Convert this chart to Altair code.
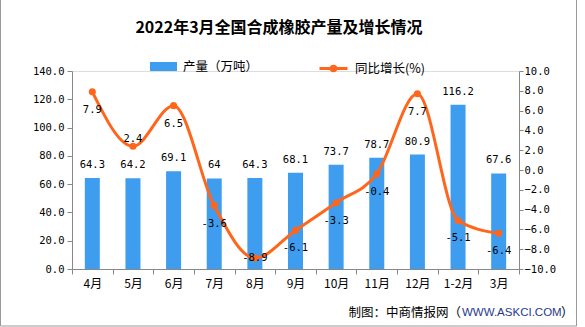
import altair as alt
import pandas as pd

months = ["4月", "5月", "6月", "7月", "8月", "9月", "10月", "11月", "12月", "1-2月", "3月"]
output = [64.3, 64.2, 69.1, 64, 64.3, 68.1, 73.7, 78.7, 80.9, 116.2, 67.6]
growth = [7.9, 2.4, 6.5, -3.6, -8.9, -6.1, -3.3, -0.4, 7.7, -5.1, -6.4]
left_ticks = [0, 20, 40, 60, 80, 100, 120, 140]
right_ticks = [-10, -8, -6, -4, -2, 0, 2, 4, 6, 8, 10]
bar_name = "产量（万吨）"
line_name = "同比增长(%)"
title_text = "2022年3月全国合成橡胶产量及增长情况"

BLUE = "#3F9DF0"
ORANGE = "#FF661C"
CJK = "Noto Sans CJK SC"
MONO = "DejaVu Sans Mono"

df = pd.DataFrame({
    "month": months,
    "output": output,
    "growth": growth,
    "out_lbl": [f"{v:g}" for v in output],
    "gr_lbl": [f"{v:g}" for v in growth],
    "s1": [bar_name] * len(months),
    "s2": [line_name] * len(months),
})

x = alt.X("month:N", sort=months, title=None,
          scale=alt.Scale(paddingInner=0, paddingOuter=0),
          axis=alt.Axis(labelAngle=0, tickBand="extent", tickSize=5, labelPadding=4,
                        domainColor="#888", tickColor="#888", labelFont=CJK,
                        labelFontSize=12, labelColor="#000", grid=False))

y_left = alt.Y("output:Q", scale=alt.Scale(domain=[0, 140], nice=False, zero=True), title=None,
               axis=alt.Axis(values=left_ticks, format=".1f", orient="left", grid=False,
                             domainColor="#888", tickColor="#888", tickSize=5, labelPadding=3,
                             labelFont=MONO, labelFontSize=10.5, labelColor="#000"))
y_right = alt.Y("growth:Q", scale=alt.Scale(domain=[-10, 10], nice=False, zero=False), title=None,
                axis=alt.Axis(values=right_ticks, format=".1f", orient="right", grid=False,
                              domainColor="#888", tickColor="#888", tickSize=4, labelPadding=1,
                              labelFont=MONO, labelFontSize=10.5, labelColor="#000"))

base = alt.Chart(df)

bars = base.mark_bar(size=15).encode(
    x=x, y=y_left,
    fill=alt.Fill("s1:N", title=None,
                  scale=alt.Scale(domain=[bar_name], range=[BLUE]),
                  legend=alt.Legend(orient="none", legendX=78, legendY=-18, padding=0,
                                    symbolType="M-1,-0.333H1V0.333H-1Z", symbolSize=729,
                                    symbolStrokeWidth=0, labelFont=CJK, labelFontSize=12.5,
                                    labelColor="#000", labelOffset=6)),
)
bar_text = base.mark_text(dy=-13, baseline="middle", font=MONO, fontSize=10.5, color="#000").encode(
    x=x, y=y_left, text="out_lbl:N")

left_layer = alt.layer(bars, bar_text)

line = base.mark_line(interpolate="monotone", strokeWidth=3).encode(
    x=x, y=y_right,
    stroke=alt.Stroke("s2:N", title=None,
                      scale=alt.Scale(domain=[line_name], range=[ORANGE]),
                      legend=alt.Legend(orient="none", legendX=246, legendY=-18, padding=0,
                                        symbolType="M-1,0H1M-0.16,0A0.16,0.16,0,1,1,0.16,0A0.16,0.16,0,1,1,-0.16,0Z",
                                        symbolSize=784, symbolStrokeWidth=3,
                                        labelFont=CJK, labelFontSize=12.5,
                                        labelColor="#000", labelOffset=6)),
)
points = base.mark_point(filled=True, size=50, opacity=1, color=ORANGE).encode(x=x, y=y_right)


def growth_labels(dy, cond):
    return base.mark_text(dy=dy, baseline="middle", font=MONO, fontSize=10.5, color="#000").transform_filter(
        cond).encode(x=x, y=y_right, text="gr_lbl:N")


lbl_below = growth_labels(18, "datum.month != '5月' && datum.month != '8月'")
lbl_above = growth_labels(-7, "datum.month == '5月'")
lbl_mid = growth_labels(0, "datum.month == '8月'")

right_layer = alt.layer(line, points, lbl_below, lbl_above, lbl_mid)

one = alt.Chart(pd.DataFrame({"a": [0]}))
border_left = one.mark_rule(color="#999", strokeWidth=1).encode(
    x=alt.value(-71.5), y=alt.value(-71), y2=alt.value(255))
border_right = one.mark_rule(color="#999", strokeWidth=1).encode(
    x=alt.value(504.5), y=alt.value(-71), y2=alt.value(255))
border_bottom = one.mark_rule(color="#999", strokeWidth=1).encode(
    x=alt.value(-71.5), x2=alt.value(504.5), y=alt.value(255))

title = one.mark_text(align="center", baseline="middle", font=CJK, fontSize=16, fontWeight="bold",
                      color="#000").encode(x=alt.value(207), y=alt.value(-43), text=alt.value(title_text))

foot1 = one.mark_text(align="right", baseline="middle", font=CJK, fontSize=12.5, color="#000").encode(
    x=alt.value(389), y=alt.value(242), text=alt.value("制图：中商情报网（"))
foot2 = one.mark_text(align="left", baseline="middle", font="Liberation Sans", fontSize=11.5, color="#1F3A8A").encode(
    x=alt.value(390), y=alt.value(242), text=alt.value("WWW.ASKCI.COM"))
foot3 = one.mark_text(align="left", baseline="middle", font=CJK, fontSize=12.5, color="#000").encode(
    x=alt.value(489), y=alt.value(242), text=alt.value("）"))

chart = alt.layer(
    left_layer, right_layer, border_left, border_right, border_bottom, title, foot1, foot2, foot3
).resolve_scale(y="independent", fill="independent", stroke="independent").properties(
    width=447, height=198,
    autosize=alt.AutoSizeParams(type="none"),
    padding={"left": 72, "top": 71, "right": 66, "bottom": 58},
).configure_view(stroke=None).configure(background="white")

chart.save("out.html", embed_options={"renderer": "svg", "actions": False})
